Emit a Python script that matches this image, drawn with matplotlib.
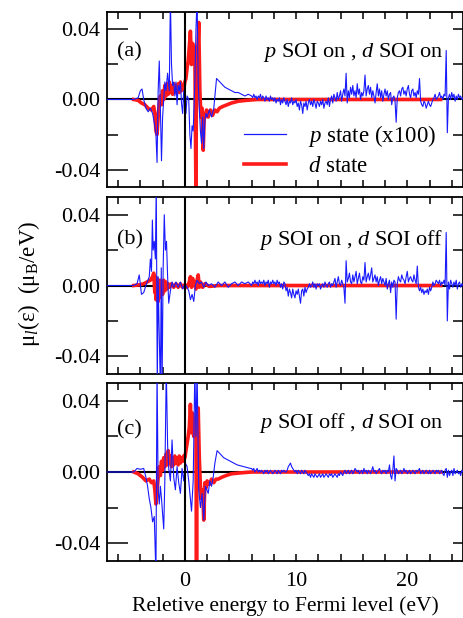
import numpy as np
import matplotlib.pyplot as plt
from matplotlib.ticker import MultipleLocator, FormatStrFormatter
from matplotlib.lines import Line2D

plt.rcParams['font.family'] = ['Liberation Serif', 'DejaVu Serif']
plt.rcParams['mathtext.fontset'] = 'custom'
plt.rcParams['mathtext.rm'] = 'Liberation Serif'
plt.rcParams['mathtext.it'] = 'Liberation Serif:italic'
plt.rcParams['axes.unicode_minus'] = False

# values in 1e-3 muB/eV
# ---- (a) p SOI on, d SOI on : (energy eV, value) near the Fermi level
p_a = [(-7, 0), (-4.6, 0), (-4.2, 1), (-4.0, 5), (-3.85, 6), (-3.7, 0), (-3.5, -5), (-3.3, -7),
       (-3.1, -5), (-2.9, -8), (-2.7, -15), (-2.6, -20), (-2.5, -36), (-2.4, 5), (-2.3, 22),
       (-2.2, -5), (-2.1, -35), (-2.0, -10), (-1.9, 0), (-1.8, 10), (-1.7, 5), (-1.55, 15),
       (-1.4, 5), (-1.3, 58), (-1.2, 20), (-1.1, 8), (-1.0, 10), (-0.9, 2), (-0.8, 10),
       (-0.7, -3), (-0.6, 8), (-0.5, 5), (-0.4, 10), (-0.3, -2), (-0.2, -8), (-0.1, 5),
       (0.0, -5), (0.1, -8), (0.2, 2), (0.35, 0), (0.45, -20), (0.55, -28), (0.65, -15),
       (0.75, -18), (0.9, 10), (1.0, 40), (1.1, 58), (1.2, 10), (1.3, -5), (1.4, -18),
       (1.5, -25), (1.6, -10), (1.7, -28), (1.8, -12), (1.9, -8), (2.0, -10), (2.2, -6),
       (2.4, -10), (2.6, -5), (2.75, 5), (2.85, 12), (3.0, 11), (3.3, 9), (3.6, 7), (3.9, 6),
       (4.2, 5), (4.5, 4), (4.8, 4), (5.1, 3), (5.4, 2), (5.7, 3)]

d_a = [(-4.6, 0), (-4.2, -0.5), (-3.9, -2), (-3.6, -3), (-3.3, -5), (-3.0, -6), (-2.8, -4),
       (-2.7, -8), (-2.6, -18), (-2.5, -20), (-2.4, -10), (-2.3, -2), (-2.2, 2), (-2.1, -3),
       (-2.0, 5), (-1.9, 0), (-1.8, 8), (-1.7, 2), (-1.6, 9), (-1.5, 3), (-1.4, 10),
       (-1.3, 4), (-1.2, 8), (-1.1, 3), (-1.0, 9), (-0.9, 4), (-0.8, 8), (-0.7, 5), (-0.6, 9),
       (-0.5, 4), (-0.4, 10), (-0.3, 5), (-0.2, 8), (-0.1, 6), (0.0, 10), (0.1, 12),
       (0.2, 18), (0.3, 22), (0.4, 30), (0.5, 39), (0.6, 20), (0.7, 32), (0.8, 24),
       (0.9, 28), (1.0, -58), (1.05, 30), (1.15, 25), (1.25, 44), (1.35, 5), (1.45, -10),
       (1.55, -5), (1.65, -29), (1.75, -8), (1.85, -10), (1.95, -6), (2.1, -10), (2.3, -6),
       (2.5, -9), (2.7, -6), (2.9, -7), (3.1, -5), (3.4, -4), (3.8, -3), (4.2, -2),
       (4.8, -1), (5.5, -0.5), (6.5, 0), (23, 0)]

# ---- (b) p SOI on, d SOI off
p_b = [(-7, 0), (-4.6, 0), (-4.3, 1), (-4.1, 6), (-3.9, -5), (-3.7, -4), (-3.5, 0),
       (-3.2, 5), (-3.1, 15), (-3.0, 8), (-2.92, 37), (-2.85, 20), (-2.75, 25), (-2.65, 15),
       (-2.57, 58), (-2.48, -58), (-2.4, 5), (-2.33, -20), (-2.2, -58), (-2.12, 10),
       (-2.05, -58), (-1.95, 10), (-1.85, 40), (-1.75, 20), (-1.65, 25), (-1.55, 5),
       (-1.45, -10), (-1.3, -3), (-1.15, 2), (-1.0, -1), (-0.8, 2), (-0.6, -1), (-0.4, 2),
       (-0.2, -2), (0.0, 1), (0.2, -1), (0.35, -3), (0.5, -8), (0.65, -5), (0.8, -9),
       (0.95, 0), (1.1, 3), (1.3, 1), (1.5, 2), (1.7, -1), (1.9, 2), (2.1, 0), (2.4, 1),
       (2.7, -1), (3.0, 2), (3.3, 0), (3.6, 2), (3.9, -1), (4.2, 1), (4.5, 2), (4.8, 0),
       (5.1, 2), (5.4, 1), (5.7, 2)]

d_b = [(-4.6, 0), (-4.0, 0.5), (-3.7, 1), (-3.4, 2), (-3.1, 3), (-2.9, 5), (-2.8, 7),
       (-2.7, -4), (-2.65, 5), (-2.6, -8), (-2.55, 4), (-2.5, -8), (-2.45, 3), (-2.4, -9),
       (-2.35, 2), (-2.3, -7), (-2.25, 3), (-2.2, -6), (-2.1, 2), (-2.0, -5), (-1.9, 3),
       (-1.8, -3), (-1.7, 2), (-1.6, -2), (-1.5, 1), (-1.4, -1), (-1.2, 1), (-1.0, -1),
       (-0.8, 1), (-0.6, -1), (-0.4, 1), (-0.2, -1), (0.0, 0.5), (0.2, -1), (0.4, 2),
       (0.5, 5), (0.6, -1), (0.7, 4), (0.8, 0), (0.9, 2), (1.0, -2), (1.1, 3), (1.2, 6),
       (1.3, -1), (1.4, 2), (1.6, -1), (1.8, 1), (2.2, -0.5), (3.0, 0), (23, 0)]

# ---- (c) p SOI off, d SOI on
p_c = [(-7, 0), (-4.6, 0), (-4.3, 2), (-4.0, 1.5), (-3.7, 2), (-3.5, -3), (-3.35, -8),
       (-3.2, -15), (-3.05, -20), (-2.9, -28), (-2.75, -25), (-2.6, -58), (-2.5, 58),
       (-2.4, -10), (-2.3, -18), (-2.2, -8), (-2.1, -15), (-1.9, -32), (-1.8, -5),
       (-1.67, 58), (-1.55, 15), (-1.45, 2), (-1.3, -5), (-1.15, 18), (-1.0, -3),
       (-0.85, -10), (-0.7, 3), (-0.55, -6), (-0.4, -12), (-0.25, 2), (-0.1, -5), (0.05, 5),
       (0.2, 3), (0.35, -5), (0.5, -15), (0.6, -22), (0.75, -5), (0.9, 58), (1.0, 20),
       (1.1, 58), (1.25, -10), (1.4, -20), (1.55, -12), (1.7, -27), (1.85, -8), (2.1, -12),
       (2.25, -5), (2.4, -8), (2.55, -3), (2.7, 5), (2.9, 12), (3.2, 10), (3.5, 8),
       (4.1, 6), (4.7, 4), (5.3, 3), (5.9, 2)]

d_c = [(-4.6, 0), (-4.2, -1), (-3.8, -3), (-3.5, -5), (-3.2, -4), (-3.0, -6), (-2.8, -5),
       (-2.7, -10), (-2.6, -18), (-2.5, -12), (-2.4, -3), (-2.3, 3), (-2.2, -2), (-2.1, 6),
       (-2.0, 1), (-1.9, 8), (-1.8, 3), (-1.7, 10), (-1.6, 4), (-1.5, 12), (-1.4, 5),
       (-1.3, 9), (-1.2, 3), (-1.1, 8), (-1.0, 4), (-0.9, 9), (-0.8, 5), (-0.7, 8), (-0.6, 4),
       (-0.5, 9), (-0.4, 5), (-0.3, 8), (-0.2, 6), (-0.1, 9), (0.0, 8), (0.1, 12), (0.2, 16),
       (0.3, 20), (0.4, 25), (0.5, 38), (0.6, 22), (0.7, 33), (0.8, 20), (0.9, 30),
       (1.0, 22), (1.05, -58), (1.1, 28), (1.2, 36), (1.3, 8), (1.4, -8), (1.5, -15),
       (1.6, -10), (1.7, -27), (1.8, -6), (1.9, -9), (2.0, -5), (2.2, -7), (2.4, -4),
       (2.6, -6), (2.8, -4), (3.0, -4), (3.3, -3), (3.7, -2), (4.2, -1), (5.0, -0.5),
       (6.0, 0), (23, 0)]

# p-state tails, sampled every 0.1 eV from 6.0 to 25.0 eV
E_TAIL = np.round(np.arange(6.0, 25.05, 0.1), 1)
tail_a = [2, 1, 3, 1, 2, 0, 2, 1, 3, 0, 2,
          1, -1, 2, 0, 1, -1, 2, 0, 1, -1,
          1, -2, 0, -1, 1, -3, 0, -2, 1, -1,
          -3, 0, -4, -1, -2, 1, -3, -1, -2, 0,
          -4, -2, -6, -1, -3, -8, -2, -4, -1, -6,
          -2, 0, -3, -1, -4, 0, -2, -5, -1, -2,
          -4, -1, -3, 0, -5, -2, -1, -3, 1, -4,
          0, 2, -2, 3, 1, -1, 4, 0, 2, 5,
          -1, 3, 6, 2, 15, -2, 5, 1, 7, 3,
          8, 2, 5, 1, 9, 3, 6, 0, 4, 2,
          5, 14, 2, 6, 8, 3, 7, 1, 5, 2,
          -2, 4, 9, 2, 6, 1, 5, -1, 3, 6,
          2, 5, 0, 3, 4, -3, 1, 2, -1, -13,
          1, 4, 5, 2, 6, 7, 3, 5, 2, 6,
          8, 3, 1, 5, 6, 2, 4, 1, 5, 3,
          12, -1, -3, -4, -1, -2, -5, -3, -1, -3,
          -4, -2, 0, 1, 3, 0, 1, 2, 4, 1,
          2, 0, 3, 2, 28, -19, 1, 3, 0, 4,
          1, 3, -1, 2, 0, 3, 1, 2, 0, 1]
tail_b = [0, 2, 1, 3, 1, 2, 0, 3, 1, 2, 1,
          3, 0, 2, 1, 3, -1, 2, 1, 3, 1,
          2, 0, 3, 1, 2, -1, 1, -2, 2, 1,
          -3, -1, -6, -2, -4, -7, -2, -5, -7, -3,
          -5, -2, -6, -10, -3, -2, -6, -1, -4, -2,
          -1, 1, -1, 0, 2, -1, 1, -2, 1, 0,
          1, -2, 0, 1, -1, 2, 0, -1, 1, 2,
          -1, 1, 0, 2, 4, -1, 2, 5, 1, 0,
          3, 1, -1, -10, 14, 2, 4, 7, 2, 1,
          6, 2, 5, 8, 1, 4, 7, 2, 1, 5,
          3, 13, 2, 5, 7, 3, 6, 10, 2, 4,
          6, 2, 5, 0, 3, 5, 1, 4, 2, 0,
          4, -2, 1, 3, -4, 2, -1, 3, 2, -19,
          1, 5, 3, 2, 6, 4, 3, 1, 5, 8,
          2, 4, 5, 3, 2, 6, 3, 1, 11, -1,
          -3, -1, -4, -2, -5, -3, -4, -2, -5, -1,
          -3, -1, 2, 0, 1, 3, 2, 1, 3, 0,
          2, 1, 3, 0, 30, -20, 2, -2, 3, 1,
          -1, 2, 0, 3, -2, 1, 2, -1, 1, 0]
tail_c = [2, 1, 2, 0, 1, 2, 0, 1, 0, 1, 0,
          -1, 1, 0, 1, -1, 0, 1, 0, -1, 0,
          1, 0, -1, 1, 0, -1, 1, 0, 1, 0,
          0, 1, 3, 4, 5, 3, 2, 1, 0, 1,
          -1, 1, 0, -1, 1, 0, -1, 1, 0, -1,
          -2, -1, -3, -1, -2, -3, -1, -2, -3, -2,
          -1, -3, -2, -1, -3, -2, -1, -2, -3, -1,
          -2, -1, -3, -2, -1, -2, -3, -1, -2, 0,
          -1, -2, 0, 1, -1, 0, 1, -1, 0, 1,
          -1, 0, 2, 1, 0, 1, -1, 0, 1, -1,
          2, 0, 1, -1, 1, 0, -1, 1, 3, 0,
          1, -1, 0, 1, 2, 0, -1, 1, 0, 1,
          -1, 1, 0, 4, -2, -4, 1, 9, -5, 2,
          1, -1, 0, 1, -1, 0, 2, 0, 1, -1,
          0, 1, -1, 0, 1, 0, -1, 1, 0, 1,
          2, -1, 0, 1, -1, 0, 1, 0, -1, 1,
          -1, 0, 1, 0, -1, 1, 0, 1, -1, 0,
          1, -1, -2, 1, 2, -3, 1, -2, 0, 1,
          -2, 2, -1, 0, 1, -1, 0, -2, 1, 0]

tags = ['(a)', '(b)', '(c)']
notes = [r'$\mathit{p}$ SOI on , $\mathit{d}$ SOI on',
         r'$\mathit{p}$ SOI on , $\mathit{d}$ SOI off',
         r'$\mathit{p}$ SOI off , $\mathit{d}$ SOI on']
tag_y = [0.77, 0.757, 0.736]
note_y = [0.77, 0.757, 0.775]

BLUE = '#1a1aff'
RED = '#ff1a1a'

fig = plt.figure(figsize=(4.64, 6.18), dpi=100)
boxes = [[0.2306, 0.6974, 0.767, 0.2832],
         [0.2306, 0.3948, 0.767, 0.2864],
         [0.2306, 0.0922, 0.767, 0.2881]]

series = [(p_a, tail_a, d_a), (p_b, tail_b, d_b), (p_c, tail_c, d_c)]
for i, (p, tail, d) in enumerate(series):
    ax = fig.add_axes(boxes[i])
    ax.axhline(0, color='black', lw=1.5, zorder=1)
    ex, ey = zip(*d)
    ax.plot(ex, np.array(ey) * 1e-3, color=RED, lw=2.6, zorder=2)
    ex, ey = zip(*p)
    px = np.concatenate([ex, E_TAIL])
    py = np.concatenate([ey, tail]) * 1e-3
    ax.plot(px, py, color=BLUE, lw=0.8, zorder=3)
    ax.axvline(0, color='black', lw=1.5, zorder=5)

    ax.set_xlim(-7, 25)
    ax.set_ylim(-0.05, 0.05)
    ax.xaxis.set_major_locator(MultipleLocator(10))
    ax.xaxis.set_minor_locator(MultipleLocator(2))
    ax.yaxis.set_major_locator(MultipleLocator(0.04))
    ax.yaxis.set_minor_locator(MultipleLocator(0.02))
    ax.yaxis.set_major_formatter(FormatStrFormatter('%.2f'))
    ax.tick_params(which='both', direction='in', top=True, right=True, width=1.1,
                   labelsize=16, pad=5)
    ax.tick_params(axis='x', which='both', length=5, pad=8)
    ax.tick_params(axis='y', which='major', length=15)
    ax.tick_params(axis='y', which='minor', length=8)
    for t in ax.yaxis.get_major_ticks() + ax.yaxis.get_minor_ticks():
        t.tick2line.set_markersize(7)
    for s in ax.spines.values():
        s.set_linewidth(1.3)
    if i < 2:
        ax.tick_params(axis='x', labelbottom=False)
    else:
        ax.set_xlabel('Reletive energy to Fermi level (eV)', fontsize=15.5, labelpad=4)

    ax.text(0.028, tag_y[i], tags[i], transform=ax.transAxes, fontsize=16,
            va='center', ha='left')
    ax.text(0.944, note_y[i], notes[i], transform=ax.transAxes, fontsize=16,
            va='center', ha='right')

    if i == 0:
        handles = [Line2D([], [], color=BLUE, lw=0.9),
                   Line2D([], [], color=RED, lw=2.6)]
        ax.legend(handles, [r'$\mathit{p}$ state (x100)', r'$\mathit{d}$ state'],
                  loc='upper left', bbox_to_anchor=(0.36, 0.42), frameon=False,
                  fontsize=16.5, handlelength=1.8, handletextpad=1.0,
                  labelspacing=0.3, borderaxespad=0)

fig.text(0.062, 0.541, r'$\mathregular{\mu_{\mathit{l}}(\varepsilon)\ \ (\mu_B/eV)}$',
         rotation=90, fontsize=16.5, va='center', ha='center')

fig.savefig('out.png', dpi=100)
